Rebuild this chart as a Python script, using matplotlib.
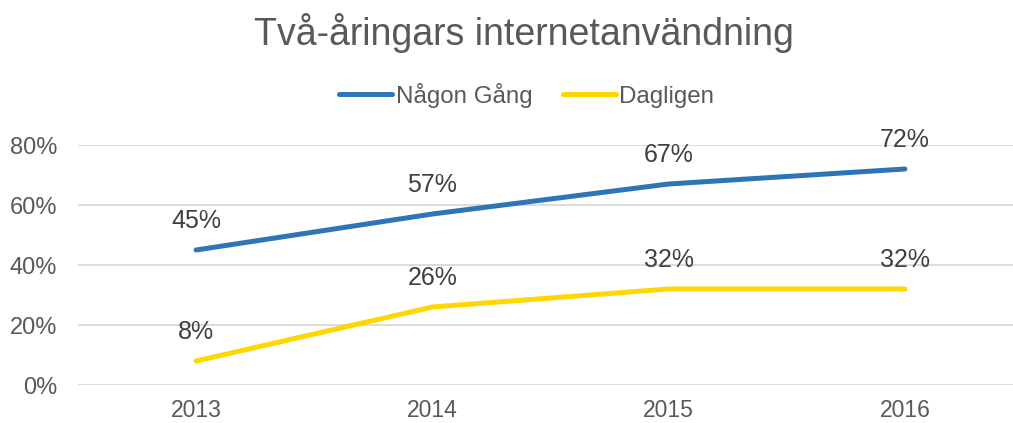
import numpy as np
from matplotlib import pyplot as plt
from matplotlib.ticker import PercentFormatter

plt.rcParams['font.family'] = ['Liberation Sans', 'DejaVu Sans']

years = ['2013', '2014', '2015', '2016']
nagon_gang = [0.45, 0.57, 0.67, 0.72]   # Någon Gång
dagligen = [0.08, 0.26, 0.32, 0.32]     # Dagligen

blue = '#2E75B6'
yellow = '#FFD700'
grey = '#595959'

fig = plt.figure(figsize=(10.13, 4.23), dpi=100)
ax = fig.add_axes([78 / 1013, 38 / 423, 945 / 1013, 240 / 423])

x = np.arange(len(years))
ax.plot(x, nagon_gang, color=blue, lw=3.6, solid_capstyle='round', label='Någon Gång')
ax.plot(x, dagligen, color=yellow, lw=3.6, solid_capstyle='round', label='Dagligen')

# data labels above each point
for series in (nagon_gang, dagligen):
    for xi, v in zip(x, series):
        ax.annotate(f'{v:.0%}', (xi, v), xytext=(0, 12), textcoords='offset points',
                    ha='center', va='bottom', fontsize=18, color='#404040')

ax.set_xlim(-0.5, 3.5)
ax.set_ylim(0, 0.8)
ax.set_xticks(x)
ax.set_xticklabels(years)
ax.set_yticks([0, 0.2, 0.4, 0.6, 0.8])
ax.yaxis.set_major_formatter(PercentFormatter(1.0, decimals=0))
ax.tick_params(axis='x', length=0, labelsize=16.5, colors=grey, pad=10)
ax.tick_params(axis='y', length=0, labelsize=17, colors=grey, pad=15)
ax.grid(axis='y', color='#D9D9D9', lw=1.3)
ax.set_axisbelow(True)
for s in ax.spines.values():
    s.set_visible(False)

fig.text(0.517, 0.922, 'Två-åringars internetanvändning', ha='center', va='center',
         fontsize=27, color=grey)
fig.legend(loc='center', bbox_to_anchor=(0.52, 0.775), ncol=2, frameon=False,
           fontsize=17.4, labelcolor=grey, handlelength=2.2, handletextpad=0.15,
           columnspacing=1.25)

fig.savefig('out.png', dpi=100)
